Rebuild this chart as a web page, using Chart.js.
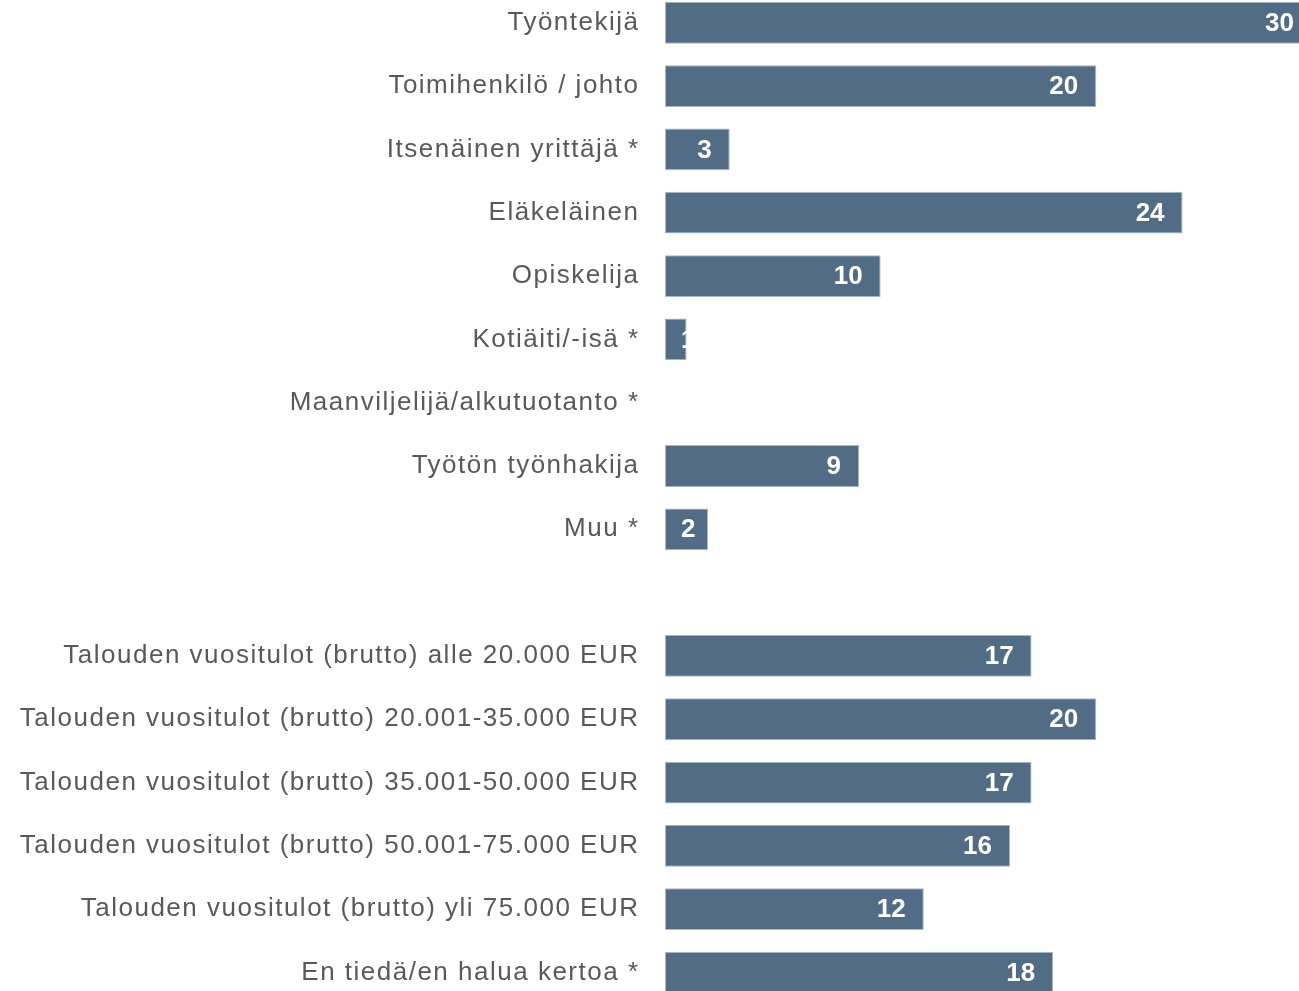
<!DOCTYPE html>
<html>
<head>
<meta charset="utf-8">
<script src="https://cdn.jsdelivr.net/npm/chart.js@4/dist/chart.umd.min.js"></script>
<style>
    html, body { margin: 0; padding: 0; background: #fff; overflow: hidden; }
    /* the y axis adds half a label height + tick padding above and below the plot,
       so the box is shifted up and stretched to push the plot past the window edges */
    #wrap { position: absolute; left: 0; top: -50px; width: 1299px; height: 1095.3px; }
</style>
</head>
<body>
<div id="wrap"><canvas id="chart"></canvas></div>
<script>
const categories = [
    'Työntekijä',
    'Toimihenkilö / johto',
    'Itsenäinen yrittäjä *',
    'Eläkeläinen',
    'Opiskelija',
    'Kotiäiti/-isä *',
    'Maanviljelijä/alkutuotanto *',
    'Työtön työnhakija',
    'Muu *',
    '',
    'Talouden vuositulot (brutto) alle 20.000 EUR',
    'Talouden vuositulot (brutto) 20.001-35.000 EUR',
    'Talouden vuositulot (brutto) 35.001-50.000 EUR',
    'Talouden vuositulot (brutto) 50.001-75.000 EUR',
    'Talouden vuositulot (brutto) yli 75.000 EUR',
    'En tiedä/en halua kertoa *'
];
const values = [30, 20, 3, 24, 10, 1, 0, 9, 2, null, 17, 20, 17, 16, 12, 18];
const axisMax = 29.4;

// wide letter spacing of the category texts
const spacing = {
    id: 'spacing',
    beforeDraw(chart) {
        chart.ctx.letterSpacing = '1.5px';
    }
};

// white value labels inside the bar end
const valueLabels = {
    id: 'valueLabels',
    afterDatasetsDraw(chart) {
        const ctx = chart.ctx;
        const meta = chart.getDatasetMeta(0);
        ctx.save();
        ctx.letterSpacing = '0px';
        ctx.font = 'bold 26px "Liberation Sans", Arial, sans-serif';
        ctx.fillStyle = '#ffffff';
        ctx.textAlign = 'left';
        ctx.textBaseline = 'middle';
        meta.data.forEach((bar, i) => {
            const v = values[i];
            if (!v) return;
            const txt = String(v);
            const w = ctx.measureText(txt).width;
            let right = bar.x - 18;
            if (right - w < bar.base + 16) right = bar.base + 16 + w;
            ctx.fillText(txt, right - w, bar.y + 1);
        });
        ctx.restore();
    }
};

new Chart(document.getElementById('chart'), {
    type: 'bar',
    data: {
        labels: categories,
        datasets: [{
            data: values,
            backgroundColor: '#526c85',
            borderColor: '#a9b8c6',
            borderWidth: 1,
            borderSkipped: false,
            barPercentage: 0.66,
            categoryPercentage: 1
        }]
    },
    options: {
        indexAxis: 'y',
        responsive: true,
        maintainAspectRatio: false,
        animation: false,
        layout: { padding: 0 },
        plugins: {
            legend: { display: false },
            tooltip: { enabled: false }
        },
        scales: {
            x: {
                display: false,
                min: 0,
                max: axisMax
            },
            y: {
                afterFit(scale) { scale.width = 665; },
                border: { display: false },
                grid: { display: false, drawTicks: false },
                ticks: {
                    padding: 25.5,
                    color: '#595959',
                    font: { family: '"Liberation Sans", Arial, sans-serif', size: 26 }
                }
            }
        }
    },
    plugins: [spacing, valueLabels]
});
</script>
</body>
</html>
